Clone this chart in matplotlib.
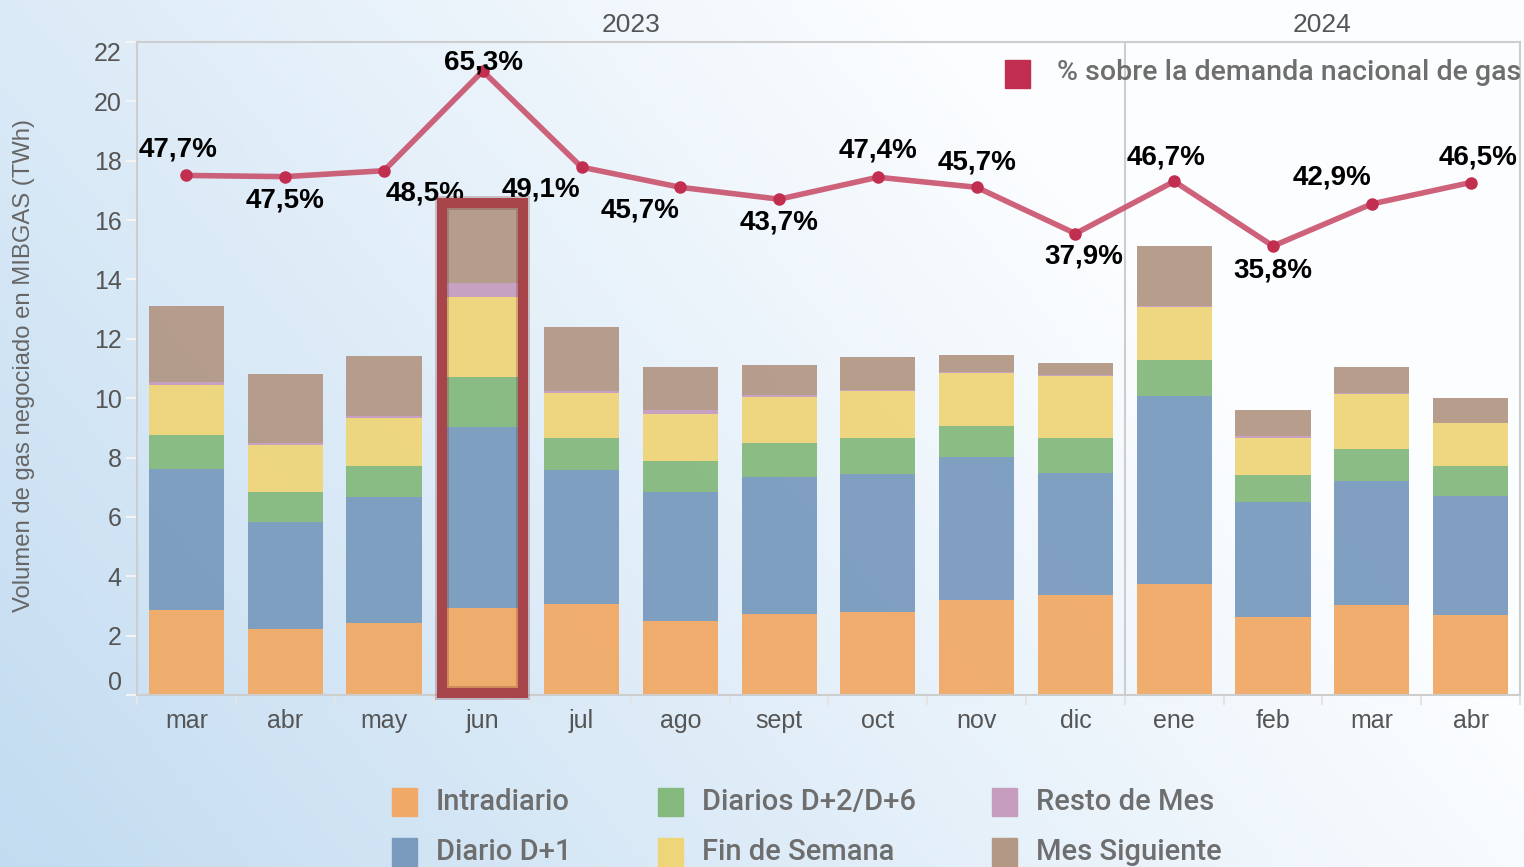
import numpy as np
import matplotlib
matplotlib.use('Agg')
import matplotlib.pyplot as plt
from matplotlib.patches import Rectangle
from matplotlib.colors import to_rgb

W, H = 1524, 867

months = ['mar', 'abr', 'may', 'jun', 'jul', 'ago', 'sept', 'oct', 'nov', 'dic',
          'ene', 'feb', 'mar', 'abr']
years = ['2023', '2024']
months_per_year = [10, 4]

# volumen negociado por producto (TWh)
intradiario = [2.87, 2.22, 2.41, 2.93, 3.08, 2.50, 2.74, 2.80, 3.20, 3.37, 3.74, 2.63, 3.04, 2.69]
diario_d1 = [4.74, 3.61, 4.26, 6.09, 4.51, 4.34, 4.59, 4.64, 4.82, 4.12, 6.33, 3.87, 4.18, 4.03]
diarios_d2_d6 = [1.16, 1.02, 1.05, 1.68, 1.07, 1.05, 1.16, 1.23, 1.05, 1.16, 1.23, 0.92, 1.08, 0.99]
fin_semana = [1.69, 1.58, 1.62, 2.70, 1.53, 1.59, 1.56, 1.56, 1.77, 2.11, 1.76, 1.24, 1.83, 1.46]
resto_mes = [0.08, 0.06, 0.05, 0.47, 0.06, 0.13, 0.07, 0.06, 0.04, 0.02, 0.06, 0.06, 0.06, 0.01]
mes_siguiente = [2.58, 2.34, 2.04, 2.53, 2.16, 1.45, 1.01, 1.11, 0.59, 0.42, 2.02, 0.89, 0.87, 0.83]

# % sobre la demanda nacional de gas
pct = [47.7, 47.5, 48.5, 65.3, 49.1, 45.7, 43.7, 47.4, 45.7, 37.9, 46.7, 35.8, 42.9, 46.5]
pct_labels = ['47,7%', '47,5%', '48,5%', '65,3%', '49,1%', '45,7%', '43,7%', '47,4%',
              '45,7%', '37,9%', '46,7%', '35,8%', '42,9%', '46,5%']
# label offsets in pixels (dx, dy)
label_off = [(-8, 26), (0, -24), (41, -23), (1, 9), (-41, -22), (-40, -23), (0, -23),
             (0, 27), (0, 25), (8, -23), (-8, 24), (0, -24), (-40, 26), (7, 25)]

series = [intradiario, diario_d1, diarios_d2_d6, fin_semana, resto_mes, mes_siguiente]
names = ['Intradiario', 'Diario D+1', 'Diarios D+2/D+6', 'Fin de Semana',
         'Resto de Mes', 'Mes Siguiente']
colors = ['#F0A966', '#7A9BBE', '#85B97E', '#EFD57A', '#C69DBE', '#B39886']
highlight = 3
FONT = 'Liberation Sans'
LEG_FONT = ['Roboto', 'Liberation Sans']

fig = plt.figure(figsize=(W / 100, H / 100), dpi=100)

# background gradient
bg = fig.add_axes([0, 0, 1, 1], zorder=-10)
u, v = np.meshgrid(np.linspace(0, 1, 400), np.linspace(0, 1, 240))
L = np.clip(0.5 + 0.85 * u - 0.4 * v, 0, 1)[..., None]
c0 = np.array(to_rgb('#bcd8ef'))
c1 = np.array(to_rgb('#fbfdff'))
bg.imshow(c0 * (1 - L) + c1 * L, aspect='auto', extent=[0, 1, 0, 1], origin='upper')
bg.axis('off')

ax = fig.add_axes([137 / W, 1 - 695 / H, (1520 - 137) / W, (695 - 42) / H])
ax.patch.set_alpha(0)
x = np.arange(len(months))
bottom = np.zeros(len(months))
for vals, col in zip(series, colors):
    ax.bar(x, vals, 0.76, bottom=bottom, color=col, alpha=0.95, zorder=2)
    bottom += np.array(vals)

ax.set_xlim(-0.5, len(months) - 0.5)
ax.set_ylim(0, 22)
ax.set_yticks(range(0, 23, 2))
ax.set_xticks(x)
ax.set_xticklabels(months, fontfamily=FONT)
ax.set_xticks(np.arange(-0.5, len(months), 1), minor=True)
ax.tick_params(axis='x', which='major', length=0, pad=10, labelsize=18, labelcolor='#555555')
ax.tick_params(axis='x', which='minor', length=7, color='#e4e4e4', width=1.5)
ax.tick_params(axis='y', length=8, color='#f4f4f4', width=1.5, pad=3,
               labelsize=18, labelcolor='#555555')
for lab in ax.get_yticklabels():
    lab.set_fontfamily(FONT)
ylabs = ax.get_yticklabels()
ylabs[0].set_va('bottom')
ylabs[-1].set_va('top')
for s in ax.spines.values():
    s.set_color('#cdcdcd')
    s.set_linewidth(1.5)
ax.axvline(months_per_year[0] - 0.5, color='#cdcdcd', lw=1.5, zorder=1)
ax.set_ylabel('Volumen de gas negociado en MIBGAS (TWh)', fontsize=17.2,
              color='#666666', fontfamily=FONT)
ax.yaxis.set_label_coords(-0.0736, 0.505)

# year headers
start = 0
for yr, n in zip(years, months_per_year):
    xc = ax.transData.transform((start + n / 2 - 0.5, 0))[0]
    fig.text(xc / W, 1 - 25 / H, yr, ha='center', va='center', fontsize=19,
             color='#555555', fontfamily=FONT)
    start += n

# % line on secondary axis
ax2 = ax.twinx()
ax2.set_ylim(-39.9, 70.2)
ax2.axis('off')
ax2.plot(x, pct, color='#C84D68', lw=4, alpha=0.88, zorder=3, solid_capstyle='round')
ax2.plot(x, pct, 'o', color='#C22E50', ms=8, zorder=4)
for xi, p, lab, (dx, dy) in zip(x, pct, pct_labels, label_off):
    ax2.annotate(lab, (xi, p), xytext=(dx, dy), textcoords='offset pixels',
                 ha='center', va='center', fontsize=20, fontweight='bold',
                 color='black', fontfamily=FONT, zorder=5)

# highlight frame around june
ax2.add_patch(Rectangle((highlight - 0.41, 0.07), 0.82, 16.5, transform=ax.transData,
                        fill=False, ec='#6e2528', lw=10, alpha=0.25, clip_on=False, zorder=8))
ax2.add_patch(Rectangle((highlight - 0.41, 0.07), 0.82, 16.5, transform=ax.transData,
                        fill=False, ec='#A8454A', lw=7.2, clip_on=False, zorder=9))

# legends
fig.patches.append(Rectangle((1005 / W, 1 - 88 / H), 25 / W, 28 / H, color='#C22E50',
                             transform=fig.transFigure))
fig.text(1057 / W, 1 - 72 / H, '% sobre la demanda nacional de gas', fontsize=20.5,
         color='#6e6e6e', va='center', ha='left', fontfamily=LEG_FONT, fontweight='medium')

col_x = [392, 658, 992]
row_y = [802, 852]
for i, (name, col) in enumerate(zip(names, colors)):
    cx = col_x[i // 2]
    ry = row_y[i % 2]
    fig.patches.append(Rectangle((cx / W, 1 - (ry + 14) / H), 25 / W, 28 / H, color=col,
                                 transform=fig.transFigure))
    fig.text((cx + 44) / W, 1 - ry / H, name, fontsize=21, color='#6e6e6e',
             va='center', ha='left', fontfamily=LEG_FONT, fontweight='medium')

fig.savefig('out.png', dpi=100)
